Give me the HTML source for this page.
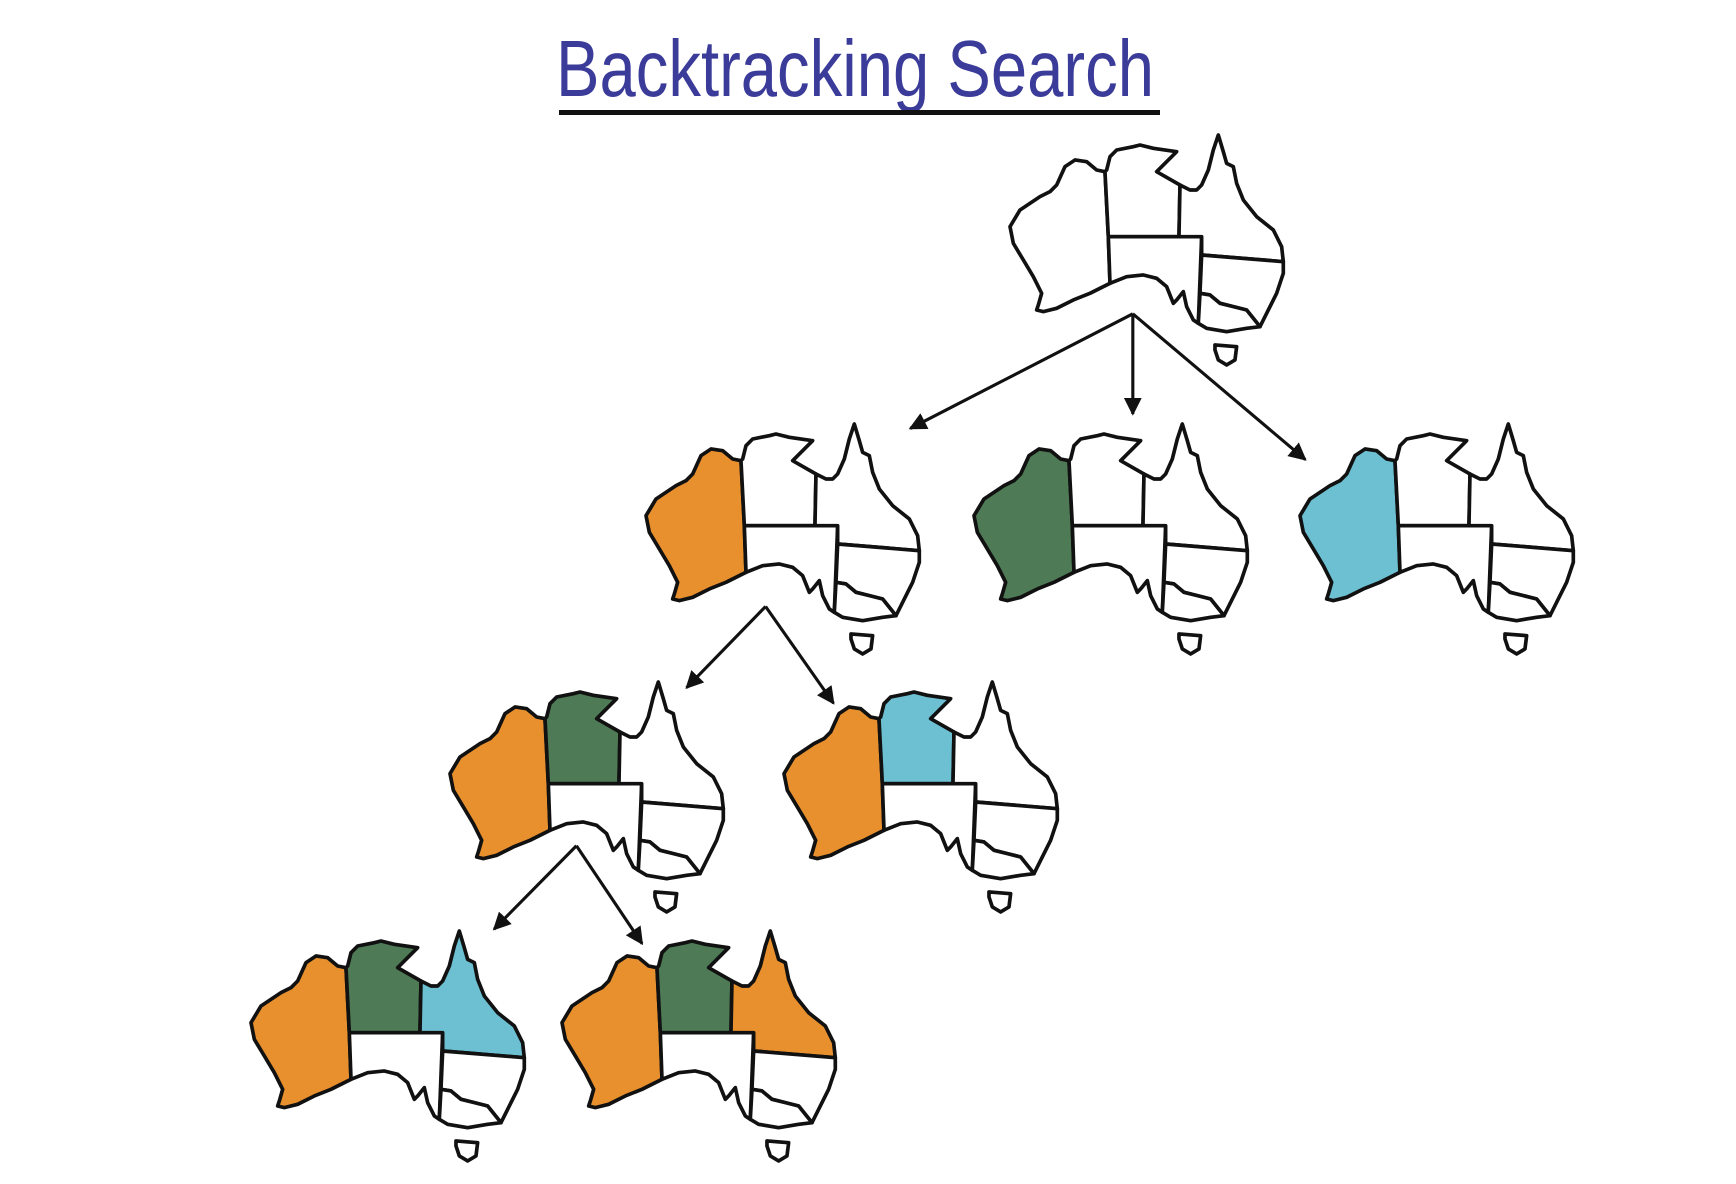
<!DOCTYPE html>
<html><head><meta charset="utf-8"><style>
html,body{margin:0;padding:0;background:#fff;}
svg{display:block;}
</style></head><body>
<svg width="1736" height="1184" viewBox="0 0 1736 1184" xmlns="http://www.w3.org/2000/svg">
<defs>
<path id="wa" d="M315,155 L290,150 L260,125 L225,120 L195,140 L170,195 L150,215 L120,230 L60,270 L30,320 L40,370 L70,420 L100,470 L125,520 L115,555 L110,570 L130,575 L170,565 L220,540 L270,520 L330,490 L325,350 Z"/>
<path id="nt" d="M315,155 L320,150 L330,110 L350,90 L400,80 L420,75 L460,85 L530,95 L470,155 L540,195 L537,350 L325,350 Z"/>
<path id="sa" d="M325,350 L605,350 L595,610 L580,600 L560,560 L550,515 L530,540 L520,550 L500,500 L470,475 L430,465 L380,470 L330,490 Z"/>
<path id="qld" d="M540,195 L570,210 L590,210 L605,195 L625,150 L640,90 L655,45 L670,95 L680,130 L700,140 L710,190 L730,240 L770,290 L820,330 L845,380 L850,425 L605,405 L605,350 L537,350 Z"/>
<path id="nsw" d="M605,405 L850,425 L850,460 L830,520 L800,580 L780,620 L740,570 L700,560 L660,550 L630,525 L600,520 Z"/>
<path id="vic" d="M600,520 L630,525 L660,550 L700,560 L740,570 L780,620 L740,625 L680,635 L620,625 L595,610 Z"/>
<path id="tas" d="M645,675 L710,680 L705,720 L680,735 L655,720 L645,690 Z"/>
<marker id="ah" viewBox="0 0 10 10" refX="9" refY="5" markerWidth="16" markerHeight="16" orient="auto" markerUnits="userSpaceOnUse"><path d="M0,0 L10,5 L0,10 Z" fill="#111"/></marker>
</defs>

<text x="556" y="96" font-family="Liberation Sans, sans-serif" font-size="80" fill="#3b3b9a" textLength="598" lengthAdjust="spacingAndGlyphs">Backtracking  Search</text>
<rect x="559" y="110" width="601" height="5" fill="#111"/>

<g stroke="#111" stroke-width="11" stroke-linejoin="round" fill="#fff">
<g transform="translate(1000,120) scale(0.3333)">
<use href="#wa"/><use href="#nt"/><use href="#sa"/><use href="#qld"/><use href="#nsw"/><use href="#vic"/><use href="#tas"/></g>

<g transform="translate(636,409) scale(0.3333)">
<use href="#wa" fill="#E8902E"/><use href="#nt"/><use href="#sa"/><use href="#qld"/><use href="#nsw"/><use href="#vic"/><use href="#tas"/></g>
<g transform="translate(964,409) scale(0.3333)">
<use href="#wa" fill="#4E7A55"/><use href="#nt"/><use href="#sa"/><use href="#qld"/><use href="#nsw"/><use href="#vic"/><use href="#tas"/></g>
<g transform="translate(1290,409) scale(0.3333)">
<use href="#wa" fill="#6CC0D2"/><use href="#nt"/><use href="#sa"/><use href="#qld"/><use href="#nsw"/><use href="#vic"/><use href="#tas"/></g>

<g transform="translate(440,667) scale(0.3333)">
<use href="#wa" fill="#E8902E"/><use href="#nt" fill="#4E7A55"/><use href="#sa"/><use href="#qld"/><use href="#nsw"/><use href="#vic"/><use href="#tas"/></g>
<g transform="translate(774,667) scale(0.3333)">
<use href="#wa" fill="#E8902E"/><use href="#nt" fill="#6CC0D2"/><use href="#sa"/><use href="#qld"/><use href="#nsw"/><use href="#vic"/><use href="#tas"/></g>

<g transform="translate(241,916) scale(0.3333)">
<use href="#wa" fill="#E8902E"/><use href="#nt" fill="#4E7A55"/><use href="#sa"/><use href="#qld" fill="#6CC0D2"/><use href="#nsw"/><use href="#vic"/><use href="#tas"/></g>
<g transform="translate(552,916) scale(0.3333)">
<use href="#wa" fill="#E8902E"/><use href="#nt" fill="#4E7A55"/><use href="#sa"/><use href="#qld" fill="#E8902E"/><use href="#nsw"/><use href="#vic"/><use href="#tas"/></g>
</g>

<g transform="scale(1.1128)" stroke="#111" stroke-width="2.8" fill="none">
<line x1="1018" y1="282" x2="818" y2="385" marker-end="url(#ah)"/>
<line x1="1018" y1="282" x2="1018" y2="372" marker-end="url(#ah)"/>
<line x1="1018" y1="282" x2="1173" y2="413" marker-end="url(#ah)"/>
<line x1="688" y1="545" x2="617" y2="618" marker-end="url(#ah)"/>
<line x1="688" y1="545" x2="749" y2="632" marker-end="url(#ah)"/>
<line x1="518" y1="760" x2="444" y2="835" marker-end="url(#ah)"/>
<line x1="518" y1="760" x2="577" y2="848" marker-end="url(#ah)"/>
</g>
</svg>
</body></html>
